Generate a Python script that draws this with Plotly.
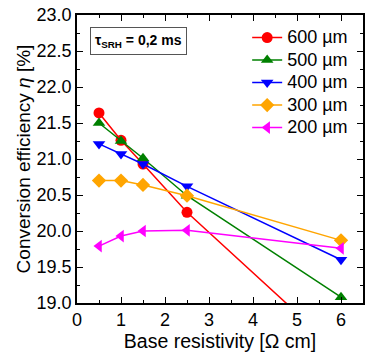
import plotly.graph_objects as go

x = [0.5, 1.0, 1.5, 2.5, 6.0]
eff_600 = [21.64, 21.26, 20.93, 20.26, 18.30]
eff_500 = [21.50, 21.25, 21.01, 20.49, 19.08]
eff_400 = [21.21, 21.07, 20.93, 20.62, 19.60]
eff_300 = [20.70, 20.70, 20.64, 20.49, 19.87]
eff_200 = [19.79, 19.93, 20.00, 20.01, 19.76]

series = [
    ("600 µm", eff_600, "#ff0000", "circle"),
    ("500 µm", eff_500, "#008000", "triangle-up"),
    ("400 µm", eff_400, "#0000ff", "triangle-down"),
    ("300 µm", eff_300, "#ffa500", "diamond"),
    ("200 µm", eff_200, "#ff00ff", "triangle-left"),
]

fig = go.Figure()
for name, y, c, sym in series:
    fig.add_trace(go.Scatter(
        x=x, y=y, name='<span style="font-size:18px">' + name + '</span>',
        mode="lines+markers",
        line=dict(color=c, width=1.5),
        marker=dict(symbol=sym, size=11, color=c),
        cliponaxis=True,
    ))

font = "Liberation Sans, Arial, sans-serif"
axis_common = dict(
    showline=True, linecolor="black", linewidth=1.5, mirror="ticks",
    ticks="inside", ticklen=6, tickwidth=1.2, tickcolor="black",
    showgrid=False, zeroline=False,
    tickfont=dict(family=font, size=18, color="black"),
)
fig.update_xaxes(range=[0, 6.5], dtick=1, tick0=0,
                 minor=dict(ticks="inside", ticklen=3, dtick=0.5, tickcolor="black", tickwidth=1.2),
                 title=dict(text="Base resistivity [Ω cm]", font=dict(family=font, size=19.5, color="black"), standoff=0),
                 **axis_common)
fig.update_yaxes(range=[19.0, 23.0], dtick=0.5, tick0=19, tickformat=".1f",
                 minor=dict(ticks="inside", ticklen=3, dtick=0.25, tickcolor="black", tickwidth=1.2),
                 title=dict(text="Conversion efficiency <i>η</i> [%]", font=dict(family=font, size=19, color="black"), standoff=1),
                 **axis_common)

fig.add_annotation(
    x=0.045, y=0.96, xref="paper", yref="paper", xanchor="left", yanchor="top",
    text="<b>τ<sub>SRH</sub> = 0,2 ms</b>", showarrow=False,
    font=dict(family=font, size=14, color="black"),
    bordercolor="#555555", borderwidth=1, borderpad=4, bgcolor="white",
)

fig.update_layout(
    width=367, height=352,
    margin=dict(l=77, r=2, t=15, b=49),
    paper_bgcolor="white", plot_bgcolor="white",
    showlegend=True,
    legend=dict(x=0.595, y=0.978, xanchor="left", yanchor="top",
                bgcolor="rgba(0,0,0,0)", borderwidth=0,
                font=dict(family=font, size=15, color="black"),
                tracegroupgap=0, itemsizing="trace"),
)

fig.write_html("out.html", config={"displayModeBar": False},
               post_script="document.body.style.margin='0';")
